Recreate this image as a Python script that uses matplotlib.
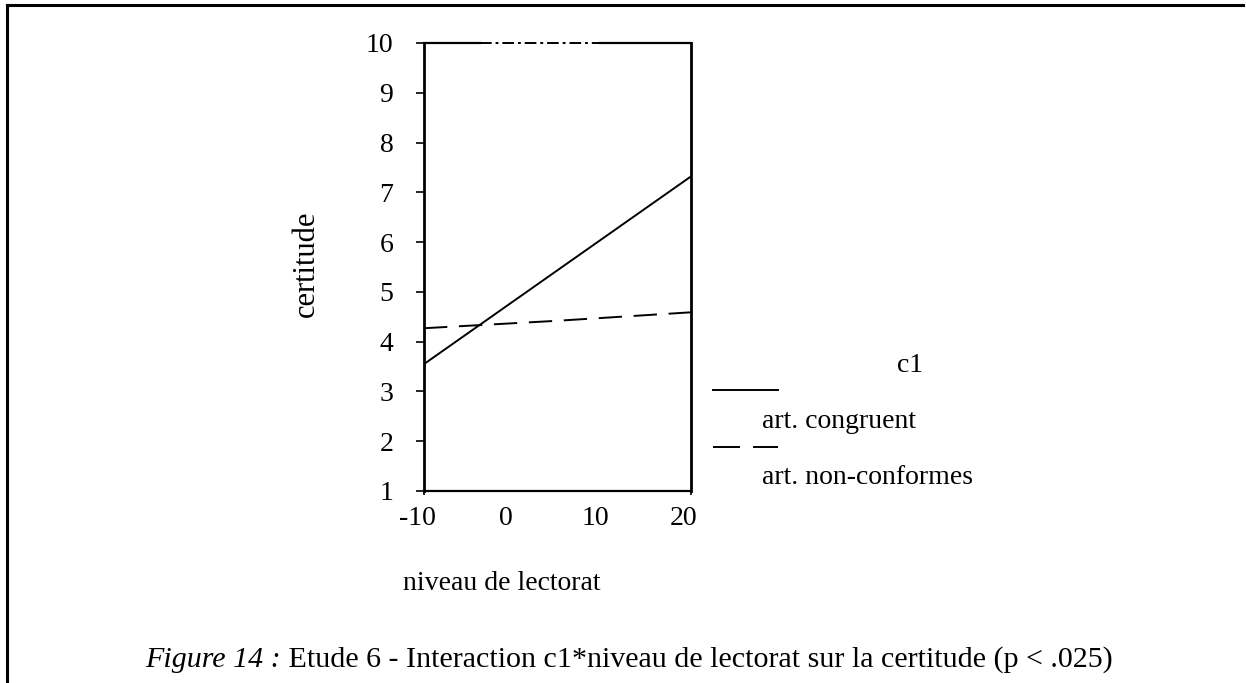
import matplotlib
matplotlib.use("Agg")
import matplotlib.pyplot as plt
from matplotlib.lines import Line2D
from matplotlib.transforms import ScaledTranslation

# data
lectorat = [-10, 20]
congruent = [3.55, 7.32]
lectorat_nc = [-10, 5, 20]
non_conformes = [4.27, 4.42, 4.59]
x_ticks = [-10, 0, 10, 20]
y_ticks = [1, 2, 3, 4, 5, 6, 7, 8, 9, 10]
legend_title = "c1"
legend_labels = ["art. congruent", "art. non-conformes"]

W, H = 1246, 683
plt.rcParams['font.family'] = ['Liberation Serif', 'DejaVu Serif']
fs = 20

fig = plt.figure(figsize=(W / 100, H / 100), dpi=100)


def px(x):
    return x / W


def py(y):
    return 1 - y / H


ax = fig.add_axes([px(424), py(491), px(691) - px(424), py(43) - py(491)])
ax.plot(lectorat, congruent, color='black', lw=1.4)
ax.plot(lectorat_nc, non_conformes, color='black', lw=1.4, dashes=(12, 6))

ax.set_xlim(-10, 20)
ax.set_ylim(1, 10)
ax.set_yticks(y_ticks)
ax.set_xticks(x_ticks)
ax.set_xticklabels([str(v) for v in x_ticks])
ax.tick_params(axis='y', direction='out', length=6, width=1.2, pad=16, labelsize=fs)
ax.tick_params(axis='x', direction='out', length=3, width=1.2, pad=8, labelsize=fs)
for lab in ax.get_xticklabels():
    lab.set_transform(lab.get_transform() + ScaledTranslation(-7 / 100, 0, fig.dpi_scale_trans))
# hide x tick marks at 0 and 10, replace by small inside dots
for t, v in zip(ax.xaxis.get_major_ticks(), x_ticks):
    if v in (0, 10):
        t.tick1line.set_visible(False)
ax.set_xticks([0, 10], minor=True)
ax.tick_params(axis='x', which='minor', direction='in', length=3, width=1.2, color='#555555')

for s in ['left', 'right']:
    ax.spines[s].set_linewidth(2.0)
ax.spines['bottom'].set_linewidth(1.6)
ax.spines['top'].set_visible(False)
# top edge with the broken dash-dot part
ax.plot([-10, -3.7], [10, 10], color='black', lw=1.6, clip_on=False)
ax.plot([-3.7, 9.8], [10, 10], color='black', lw=1.4, clip_on=False,
        linestyle=(0, (6, 2, 1.5, 2)))
ax.plot([9.8, 20], [10, 10], color='black', lw=1.6, clip_on=False)

fig.text(px(306), py(264), "certitude", rotation=90, ha='center', va='center', fontsize=22)
fig.text(px(502), py(583), "niveau de lectorat", ha='center', va='center', fontsize=fs)

# legend
fig.text(px(910), py(366), legend_title, ha='center', va='center', fontsize=fs)
fig.add_artist(Line2D([px(713), px(778)], [py(390), py(390)], color='black', lw=1.4))
fig.add_artist(Line2D([px(713), px(778)], [py(447), py(447)], color='black', lw=1.4,
                      dashes=(13.9, 6.7)))
fig.text(px(762), py(422), legend_labels[0], ha='left', va='center', fontsize=fs)
fig.text(px(762), py(477), legend_labels[1], ha='left', va='center', fontsize=fs)

# frame
fig.add_artist(Line2D([px(7), px(1243)], [py(5), py(5)], color='black', lw=2.2))
fig.add_artist(Line2D([px(7), px(7)], [py(5), py(683)], color='black', lw=2.2))

# caption: italic part + regular part
fig.canvas.draw()
r = fig.canvas.get_renderer()
t1 = fig.text(0, py(660), "Figure 14 :", style='italic', ha='left', va='center', fontsize=21.6)
t2 = fig.text(0, py(660), " Etude 6 - Interaction c1*niveau de lectorat sur la certitude (p < .025)",
              ha='left', va='center', fontsize=21.6)
w1 = t1.get_window_extent(r).width
w2 = t2.get_window_extent(r).width
x0 = 629 - (w1 + w2) / 2
t1.set_x(px(x0))
t2.set_x(px(x0 + w1))

fig.savefig("out.png", dpi=100)
